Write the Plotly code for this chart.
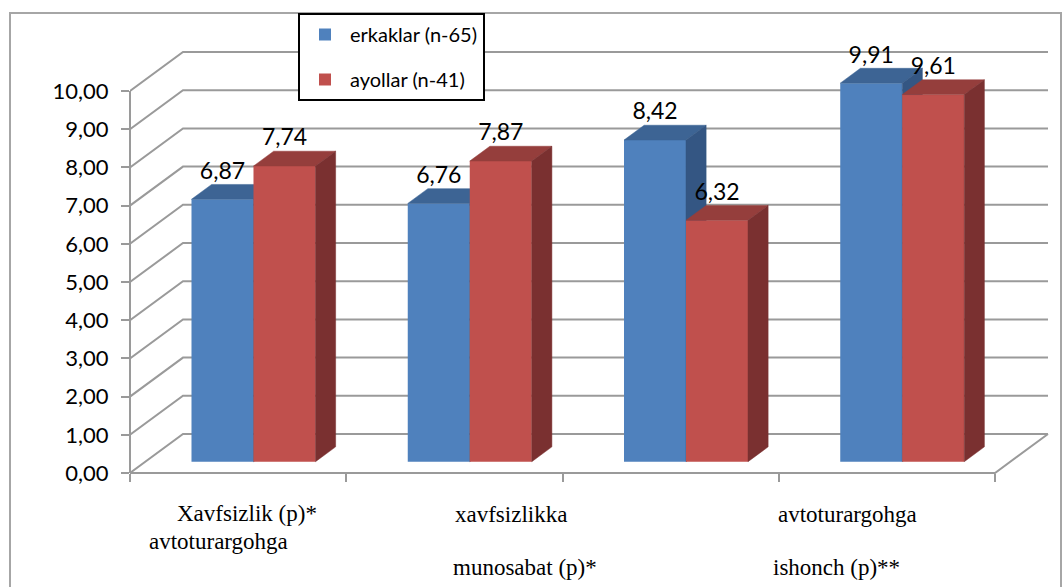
import numpy as np
import plotly.graph_objects as go

# ---------------- data ----------------
categories = ["avtoturargohga Xavfsizlik (p)*", "xavfsizlikka munosabat (p)*",
              "avtoturargohga ishonch (p)**", "4"]
erkaklar = [6.87, 6.76, 8.42, 9.91]
ayollar = [7.74, 7.87, 6.32, 9.61]
series_names = ["erkaklar (n-65)", "ayollar (n-41)"]
y_ticks = list(range(0, 11))
cat_label_lines = ["Xavfsizlik (p)*", "avtoturargohga", "xavfsizlikka",
                   "munosabat (p)*", "avtoturargohga", "ishonch (p)**"]

# ---------------- layout geometry (pixels) ----------------
W, H = 1064, 587
L, R, T, B = 130, 4, 20, 97
plot_w, plot_h = W - L - R, H - T - B
px_per_cat = 216.25
px_per_unit = 38.2
y0_px = 473
xmin = -0.5
xmax = xmin + plot_w / px_per_cat
ymin = -(H - B - y0_px) / px_per_unit
ymax = ymin + plot_h / px_per_unit

# pseudo-3D depth
Dx, Dy = 53 / px_per_cat, 39 / px_per_unit   # full depth of the box
f_pos, f_depth = 0.29, 0.38                   # bar position / bar depth (fractions)
bdx, bdy = f_pos * Dx, f_pos * Dy
tdx, tdy = f_depth * Dx, f_depth * Dy
bw = 62 / px_per_cat

# label positions (pixel centres)
cat_label_pos = [(247, 513), (218, 541), (511, 514), (525, 567), (847, 514), (836, 567)]

def px_to_paper(px, py):
    return (px - L) / plot_w, (H - B - py) / plot_h

colors = {
    "blue": ("#4F81BD", "#3D6494", "#345683"),
    "red": ("#C0504D", "#953E3C", "#7A3030"),
}

n = len(categories)
idx = np.arange(n)
fig = go.Figure()

# ---------------- walls / gridlines ----------------
gx, gy = [], []
for v in y_ticks:
    gx += [xmin, xmin + Dx, n - 0.5 + Dx, None]
    gy += [v, v + Dy, v + Dy, None]
gx += [xmin, n - 0.5, n - 0.5 + Dx, None]
gy += [0, 0, Dy, None]
fig.add_trace(go.Scatter(x=gx, y=gy, mode="lines", line=dict(color="#9A9A9A", width=2),
                         hoverinfo="skip", showlegend=False, zorder=0))

# ---------------- bars ----------------
z = 1
for si, (vals, key) in enumerate([(erkaklar, "blue"), (ayollar, "red")]):
    vals = np.array(vals)
    front, top_c, side_c = colors[key]
    xc = idx + bdx + (si - 0.5) * bw
    fig.add_trace(go.Bar(x=xc, y=vals, base=bdy, width=bw, name=series_names[si],
                         marker=dict(color=front, line=dict(width=0)),
                         legendgroup=key, zorder=z))
    xl, xr = xc - bw / 2, xc + bw / 2
    top = bdy + vals
    tx, ty, sx, sy = [], [], [], []
    for a, b, t in zip(xl, xr, top):
        tx += [a, b, b + tdx, a + tdx, a, None]
        ty += [t, t, t + tdy, t + tdy, t, None]
        sx += [b, b, b + tdx, b + tdx, b, None]
        sy += [bdy, t, t + tdy, bdy + tdy, bdy, None]
    fig.add_trace(go.Scatter(x=tx, y=ty, mode="lines", fill="toself", fillcolor=top_c,
                             line=dict(color=top_c, width=0.5), hoverinfo="skip",
                             showlegend=False, zorder=z + 1))
    fig.add_trace(go.Scatter(x=sx, y=sy, mode="lines", fill="toself", fillcolor=side_c,
                             line=dict(color=side_c, width=0.5), hoverinfo="skip",
                             showlegend=False, zorder=z + 1))
    fig.add_trace(go.Scatter(x=xc, y=top + tdy, mode="text",
                             text=[f"{v:.2f}".replace(".", ",") for v in vals],
                             textposition="top center",
                             textfont=dict(family="Lato", size=23, color="black"),
                             hoverinfo="skip", showlegend=False, zorder=10,
                             cliponaxis=False))
    z += 2

# ---------------- category labels ----------------
for txt, (px, py) in zip(cat_label_lines, cat_label_pos):
    xp, yp = px_to_paper(px, py)
    fig.add_annotation(x=xp, y=yp, xref="paper", yref="paper", text=txt, showarrow=False,
                       xanchor="center", yanchor="middle",
                       font=dict(family="Liberation Serif", size=23, color="black"))

# y axis line (front, 0..10)
fig.add_shape(type="line", xref="paper", yref="y", x0=0, x1=0, y0=0, y1=max(y_ticks),
              line=dict(color="#9A9A9A", width=2))

# outer chart frame
fx0, fy0 = px_to_paper(10, 13)
fx1, fy1 = px_to_paper(1061, 600)
fig.add_shape(type="rect", xref="paper", yref="paper", x0=fx0, x1=fx1, y0=fy1, y1=fy0,
              line=dict(color="#A6A6A6", width=2), layer="below")

lx, ly = px_to_paper(298, 13)
fig.update_layout(
    width=W, height=H,
    margin=dict(l=L, r=R, t=T, b=B),
    paper_bgcolor="white", plot_bgcolor="white",
    separators=",.",
    barmode="overlay",
    showlegend=True,
    legend=dict(x=lx, y=ly, xanchor="left", yanchor="top", bgcolor="white",
                bordercolor="black", borderwidth=2, tracegroupgap=16,
                itemwidth=40,
                font=dict(family="Lato", size=20, color="black")),
    xaxis=dict(range=[xmin, xmax], anchor="free", position=(0 - ymin) / (ymax - ymin),
               tickvals=[i - 0.5 for i in range(n + 1)], ticks="outside", ticklen=8,
               tickwidth=2, tickcolor="#9A9A9A", showticklabels=False,
               showgrid=False, zeroline=False, showline=False),
    yaxis=dict(range=[ymin, ymax], tickvals=y_ticks, tickformat=".2f", ticks="outside",
               ticklen=8, tickwidth=2, tickcolor="#9A9A9A", showgrid=False,
               zeroline=False, showline=False, ticklabelstandoff=8,
               tickfont=dict(family="Lato", size=22, color="black")),
)

fig.write_html("out.html", config={"displayModeBar": False},
               post_script="document.body.style.margin='0';document.body.style.overflow='hidden';")
